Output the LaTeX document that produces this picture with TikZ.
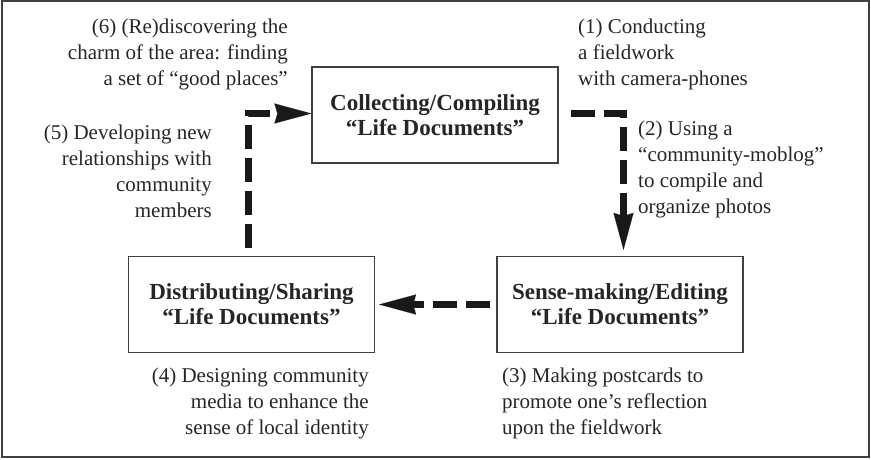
\documentclass[tikz,border=0pt]{standalone}
\usepackage{fontspec}
\setmainfont{Liberation Serif}
\usetikzlibrary{arrows.meta}

\begin{document}
\begin{tikzpicture}[
  x=1pt, y=-1pt,
  stage/.style={draw=black!75, line width=1.2pt, minimum width=246pt, minimum height=96pt,
    inner sep=0pt, align=center, text=black!85, font=\fontsize{23}{25}\selectfont\bfseries},
  note/.style={inner sep=0pt, text=black!85, font=\fontsize{21}{26}\selectfont},
  flow/.style={draw=black!90, line width=7pt, dash pattern=on 24pt off 9pt,
    -{Stealth[length=37pt, width=20pt, inset=3pt, line width=0.1pt]}}
  ]
\useasboundingbox (0,0) rectangle (871,459);
\draw[black!75, line width=1.5pt] (2,1) rectangle (869,457);

% STAGES
\node[stage] (collect) at (435,115) {Collecting/Compiling\\``Life Documents''};
\node[stage] (sense) at (620,304.5) {Sense-making/Editing\\``Life Documents''};
\node[stage] (distribute) at (251.5,304.5) {Distributing/Sharing\\``Life Documents''};

% FLOWS between the stages
\draw[flow] ([xshift=12pt,yshift=1.5pt]collect.east) -| ([xshift=3.5pt,yshift=6pt]sense.north);
\draw[flow] ([xshift=-6pt]sense.west) -- ([xshift=4pt]distribute.east);
\draw[flow] ([xshift=-3.5pt,yshift=8pt]distribute.north) |- ([yshift=1.5pt]collect.west);

% NOTES on each step
\node[note, anchor=west, align=left] (step1) at (578,54) {(1) Conducting\\a fieldwork\\with camera-phones};
\node[note, anchor=west, align=left] (step2) at (638,169) {(2) Using a\\``community-moblog''\\to compile and\\organize photos};
\node[note, anchor=west, align=left] (step3) at (502,403) {(3) Making postcards to\\promote one's reflection\\upon the fieldwork};
\node[note, anchor=east, align=right] (step4) at (369,403) {(4) Designing community\\media to enhance the\\sense of local identity};
\node[note, anchor=east, align=right] (step5) at (212,171) {(5) Developing new\\relationships with\\community\\members};
\node[note, anchor=east, align=right] (step6) at (288,54) {(6) (Re)discovering the\\charm of the area: finding\\a set of ``good places''};
\end{tikzpicture}
\end{document}
